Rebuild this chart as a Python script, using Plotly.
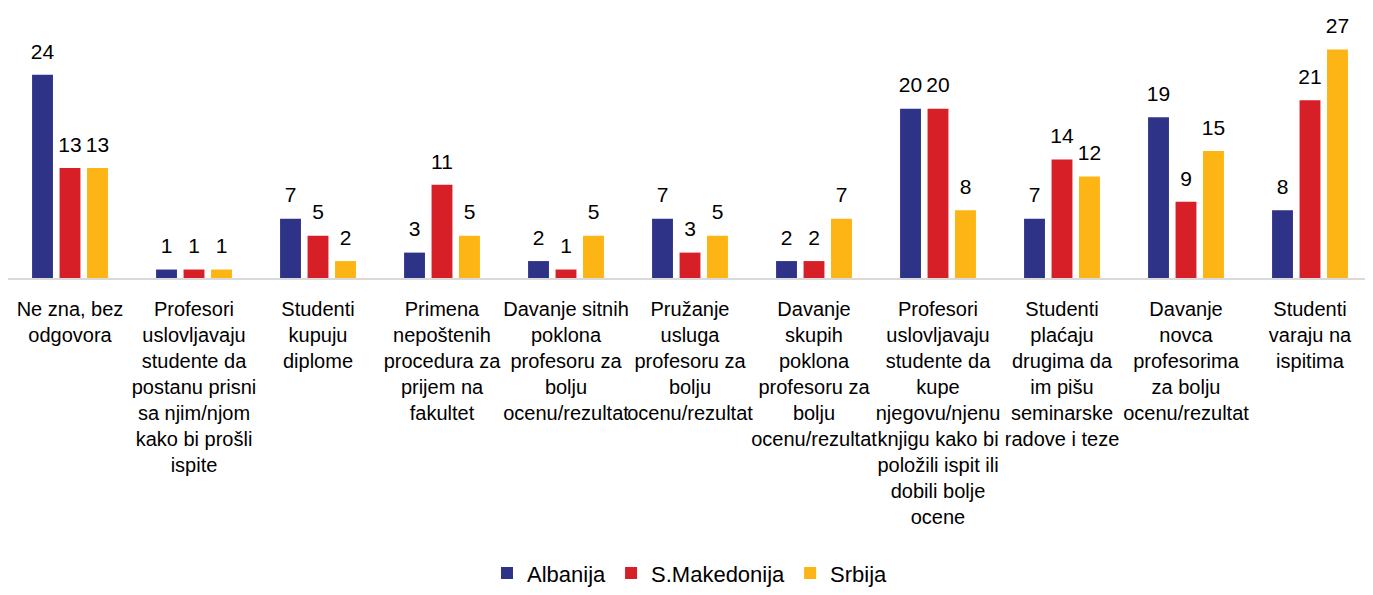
import plotly.graph_objects as go

categories = [
    "Ne zna, bez<br>odgovora",
    "Profesori<br>uslovljavaju<br>studente da<br>postanu prisni<br>sa njim/njom<br>kako bi prošli<br>ispite",
    "Studenti<br>kupuju<br>diplome",
    "Primena<br>nepoštenih<br>procedura za<br>prijem na<br>fakultet",
    "Davanje sitnih<br>poklona<br>profesoru za<br>bolju<br>ocenu/rezultat",
    "Pružanje<br>usluga<br>profesoru za<br>bolju<br>ocenu/rezultat",
    "Davanje<br>skupih<br>poklona<br>profesoru za<br>bolju<br>ocenu/rezultat",
    "Profesori<br>uslovljavaju<br>studente da<br>kupe<br>njegovu/njenu<br>knjigu kako bi<br>položili ispit ili<br>dobili bolje<br>ocene",
    "Studenti<br>plaćaju<br>drugima da<br>im pišu<br>seminarske<br>radove i teze",
    "Davanje<br>novca<br>profesorima<br>za bolju<br>ocenu/rezultat",
    "Studenti<br>varaju na<br>ispitima",
]
albanija = [24, 1, 7, 3, 2, 7, 2, 20, 7, 19, 8]
makedonija = [13, 1, 5, 11, 1, 3, 2, 20, 14, 9, 21]
srbija = [13, 1, 2, 5, 5, 5, 7, 8, 12, 15, 27]

series = [
    ("Albanija", albanija, "#2E3388", "a"),
    ("S.Makedonija", makedonija, "#D71F27", "b"),
    ("Srbija", srbija, "#FDB515", "c"),
]

FONT = "Liberation Sans Narrow, Arial Narrow, Liberation Sans, Arial, sans-serif"
xs = list(range(len(categories)))

fig = go.Figure()
for name, vals, col, grp in series:
    fig.add_trace(go.Bar(
        x=xs, y=vals, name=name, offsetgroup=grp,
        marker=dict(color=col, line=dict(width=0)),
    ))
for name, vals, col, grp in series:
    fig.add_trace(go.Scatter(
        x=xs, y=vals, name=name, offsetgroup=grp, mode="markers+text",
        marker=dict(size=16, opacity=0, color=col),
        text=[str(v) for v in vals], textposition="top center",
        textfont=dict(family=FONT, size=21, color="#000000"),
        showlegend=False, hoverinfo="skip", cliponaxis=False,
    ))

fig.update_layout(
    width=1365, height=587,
    margin=dict(l=0, r=1, t=16, b=317),
    paper_bgcolor="white", plot_bgcolor="white",
    barmode="group", bargap=0.335, bargroupgap=0.24,
    scattermode="group", scattergap=0.335,
    font=dict(family=FONT, size=20, color="#000000"),
    showlegend=True,
    legend=dict(orientation="h", x=0.5, xanchor="center", y=-1.245, yanchor="bottom",
                font=dict(family=FONT, size=22, color="#000000"),
                itemwidth=30, traceorder="normal"),
    xaxis=dict(
        tickmode="array", tickvals=xs, ticktext=categories,
        range=[-0.5, len(categories) - 0.5], automargin=False,
        showline=True, linecolor="#D9D9D9", linewidth=2,
        ticks="", showgrid=False, zeroline=False,
        tickfont=dict(family=FONT, size=20, color="#000000"),
        tickangle=0, ticklabelstandoff=12,
    ),
    yaxis=dict(range=[0, 30], visible=False, showgrid=False, zeroline=False, automargin=False),
)

fig.write_html("out.html")
